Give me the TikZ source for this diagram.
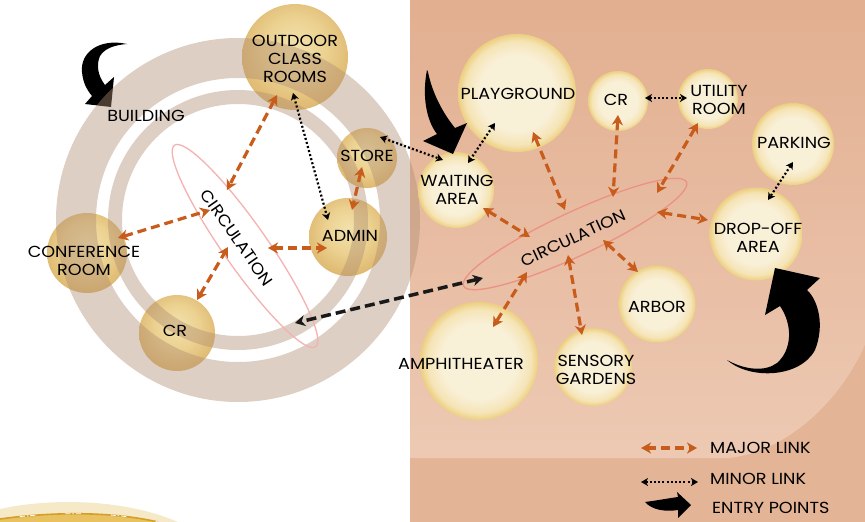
\documentclass[tikz,border=0pt]{standalone}
\usepackage{fontspec}
\setmainfont{Poppins}[FakeStretch=1.1]
\usetikzlibrary{arrows.meta,shapes.geometric}
\definecolor{orng}{RGB}{200,92,28}
\definecolor{ringc}{RGB}{176,141,113}
\definecolor{pinkA}{RGB}{245,178,176}
\definecolor{pinkB}{RGB}{236,146,130}
\definecolor{panTop}{RGB}{226,175,144}
\definecolor{panBot}{RGB}{237,201,179}
\definecolor{panBand}{RGB}{228,180,150}
\definecolor{gA}{RGB}{242,225,172}
\definecolor{gB}{RGB}{236,210,146}
\definecolor{gC}{RGB}{220,180,106}
\definecolor{cA}{RGB}{249,240,216}
\definecolor{cB}{RGB}{245,228,182}
\definecolor{cC}{RGB}{236,207,128}
\definecolor{creamL}{RGB}{246,233,200}
\definecolor{goldF}{RGB}{232,194,96}
\definecolor{goldL}{RGB}{214,158,38}
\pgfdeclareradialshading{goldball}{\pgfpoint{0bp}{6bp}}{color(0bp)=(gA); color(14bp)=(gB); color(30bp)=(gC); color(50bp)=(gC)}
\pgfdeclareradialshading{creamball}{\pgfpoint{0bp}{0bp}}{color(0bp)=(cA); color(16bp)=(cA); color(22bp)=(cB); color(25bp)=(cC); color(50bp)=(cC)}
\tikzset{
  lball/.style={circle, shading=goldball, minimum size=#1, inner sep=0pt},
  rball/.style={circle, shading=creamball, minimum size=#1, inner sep=0pt},
  lbl/.style={font=\fontsize{16}{18}\selectfont, align=center, inner sep=0pt},
  circring/.style={ellipse, line width=1.3pt, inner sep=0pt, minimum width=246pt, minimum height=44pt},
  bigtip/.tip={Stealth[length=10pt,width=11pt,inset=3pt]},
  smalltip/.tip={Stealth[length=7pt,width=8pt,inset=2pt]},
  major/.style={draw=orng, line width=3.2pt, dash pattern=on 9pt off 5pt, bigtip-bigtip},
  minor/.style={draw=black, line width=2.2pt, dash pattern=on 2pt off 2.2pt, smalltip-smalltip},
  blackdash/.style={draw=black!90, line width=3.5pt, dash pattern=on 10pt off 5pt, bigtip-bigtip},
  entry/.style={fill=black}
}
\begin{document}
\begin{tikzpicture}[x=1pt,y=-1pt]
\useasboundingbox (0,0) rectangle (865,522);
% backgrounds
\fill[white] (0,0) rectangle (410,522);
\fill[panBand] (410,0) rectangle (865,522);
\shade[top color=panTop, bottom color=panBot] (410,0) -- (865,0) -- (865,345) .. controls (840,400) and (790,450) .. (730,458) -- (410,458) -- cycle;
% bottom-left decoration
\fill[creamL] (0,509) .. controls (45,499) and (120,497) .. (178,522) -- (0,522) -- cycle;
\fill[goldF] (0,519) .. controls (50,512) and (110,511) .. (158,522) -- (0,522) -- cycle;
\draw[goldL, line width=1.6pt] (0,519) .. controls (50,512) and (110,511) .. (158,522);
\draw[white, line width=0.8pt, dash pattern=on 5pt off 2pt on 1.5pt off 2pt on 5pt off 30pt, dash phase=-20pt] (0,519) .. controls (50,512) and (110,511) .. (158,522);
% left (building) spaces
\node[lball=106pt] (outdoor) at (295,57) {};
\node[lball=60pt] (store) at (367,158) {};
\node[lball=78pt] (admin) at (348,237) {};
\node[lball=80pt] (conf) at (87,253) {};
\node[lball=76pt] (crL) at (177,333) {};
% building entry arrow
\fill[entry] (127,44) .. controls (100,38) and (80,52) .. (82,72) .. controls (83,83) and (87,90) .. (92,96) -- (85,104) -- (111,107) -- (114,77) -- (105,85) .. controls (98,76) and (96,65) .. (100,56) .. controls (105,48) and (115,45) .. (127,44) -- cycle;
% building rings
\fill[ringc, opacity=.42, even odd rule] (238,220) circle (182) (238,220) circle (142);
\fill[ringc, opacity=.42, even odd rule] (238,220) circle (130) (238,220) circle (116);
% circulation rings
\node[circring, draw=pinkA, rotate=-55] (circL) at (245,246) {};
\node[circring, draw=pinkB, rotate=25] (circR) at (575,234) {};
% right (site) spaces
\node[rball=118pt] (play) at (517,93) {};
\node[rball=60pt] (crR) at (618,101) {};
\node[rball=60pt] (util) at (708,99) {};
\node[rball=82pt] (park) at (793,144) {};
\node[rball=93pt] (drop) at (756,234) {};
\node[rball=76pt] (wait) at (456,190) {};
\node[rball=77pt] (arbor) at (657,304) {};
\node[rball=78pt] (sens) at (593,367) {};
\node[rball=118pt] (amph) at (479,361) {};
% links inside the building
\draw[major] ([shift={(-18,38)}]outdoor.center) -- ([shift={(-18,-56)}]circL.center);
\draw[major] ([shift={(31,-15)}]conf.center) -- ([shift={(-35,-36)}]circL.center);
\draw[major] ([shift={(20,-33)}]crL.center) -- ([shift={(-17,1)}]circL.center);
\draw[major] ([shift={(23,2)}]circL.center) -- ([shift={(-21,11)}]admin.center);
\draw[major] ([shift={(-5,9)}]store.center) -- ([shift={(4,-27)}]admin.center);
\draw[minor] ([shift={(-2,36)}]outdoor.center) -- ([shift={(-20,-17)}]admin.center);
\draw[minor] ([shift={(13,-21)}]store.center) -- ([shift={(-13,-30)}]wait.center);
\draw[blackdash] ([shift={(-92,44)}]circR.center) -- ([shift={(50,77)}]circL.center);
% links on the site
\draw[major] ([shift={(27,18)}]wait.center) -- ([shift={(-45,3)}]circR.center);
\draw[major] ([shift={(16,39)}]play.center) -- ([shift={(-10,-24)}]circR.center);
\draw[major] ([shift={(0,14)}]crR.center) -- ([shift={(38,-37)}]circR.center);
\draw[major] ([shift={(-10,24)}]util.center) -- ([shift={(82,-41)}]circR.center);
\draw[major] ([shift={(82,-22)}]circR.center) -- ([shift={(-48,-14)}]drop.center);
\draw[major] ([shift={(28,6)}]circR.center) -- ([shift={(-19,-32)}]arbor.center);
\draw[major] ([shift={(-7,21)}]circR.center) -- ([shift={(-11,-32)}]sens.center);
\draw[major] ([shift={(-48,38)}]circR.center) -- ([shift={(14,-34)}]amph.center);
\draw[minor] ([shift={(-22,30)}]play.center) -- ([shift={(12,-27)}]wait.center);
\draw[minor] ([shift={(27,-3)}]crR.center) -- ([shift={(-21,-1)}]util.center);
\draw[minor] ([shift={(0,18)}]park.center) -- ([shift={(12,-34)}]drop.center);
% entry arrows on the site
\fill[entry] (427,70) .. controls (422,95) and (426,120) .. (437,134) -- (423,141) -- (453,154) -- (467,123) -- (455,128) .. controls (442,112) and (432,92) .. (428,72) -- cycle;
\fill[entry] (727,360) .. controls (750,380) and (800,378) .. (815,350) .. controls (825,325) and (818,300) .. (807,290) -- (820,278) -- (775,268) -- (765,315) -- (780,306) .. controls (793,325) and (792,350) .. (777,363) .. controls (765,372) and (745,370) .. (727,360) -- cycle;
% labels
\node[lbl] (tOut) at (295,59) {OUTDOOR\\CLASS\\ROOMS};
\node[lbl] (tBld) at (146,116) {BUILDING};
\node[lbl] (tStore) at (367,156) {STORE};
\node[lbl] (tAdmin) at (350,236) {ADMIN};
\node[lbl] (tConf) at (84,261) {CONFERENCE\\ROOM};
\node[lbl] (tCrL) at (175,331) {CR};
\node[lbl, rotate=-55] (tCircL) at (237,238) {CIRCULATION};
\node[lbl] (tPlay) at (518,94) {PLAYGROUND};
\node[lbl] (tCrR) at (616,100) {CR};
\node[lbl] (tUtil) at (719,100) {UTILITY\\ROOM};
\node[lbl] (tPark) at (794,143) {PARKING};
\node[lbl] (tWait) at (457,190) {WAITING\\AREA};
\node[lbl] (tDrop) at (758,238) {DROP-OFF\\AREA};
\node[lbl, rotate=25] (tCircR) at (573,238) {CIRCULATION};
\node[lbl] (tArbor) at (657,307) {ARBOR};
\node[lbl] (tAmph) at (461,364) {AMPHITHEATER};
\node[lbl] (tSens) at (596,370) {SENSORY\\GARDENS};
% legend
\coordinate (lgA1) at (641,448);
\coordinate (lgA2) at (697,448);
\coordinate (lgB1) at (641,482);
\coordinate (lgB2) at (698,482);
\draw[major] (lgA1) -- (lgA2);
\draw[minor] (lgB1) -- (lgB2);
\fill[entry] (645,502) .. controls (660,500) and (670,498) .. (678,497) -- (677,492) -- (691,505) -- (678,518) -- (678,510) .. controls (665,512) and (652,510) .. (645,502) -- cycle;
\node[lbl, anchor=west] (tMaj) at (710,448) {MAJOR LINK};
\node[lbl, anchor=west] (tMin) at (710,479) {MINOR LINK};
\node[lbl, anchor=west] (tEnt) at (712,508) {ENTRY POINTS};
\end{tikzpicture}
\end{document}
